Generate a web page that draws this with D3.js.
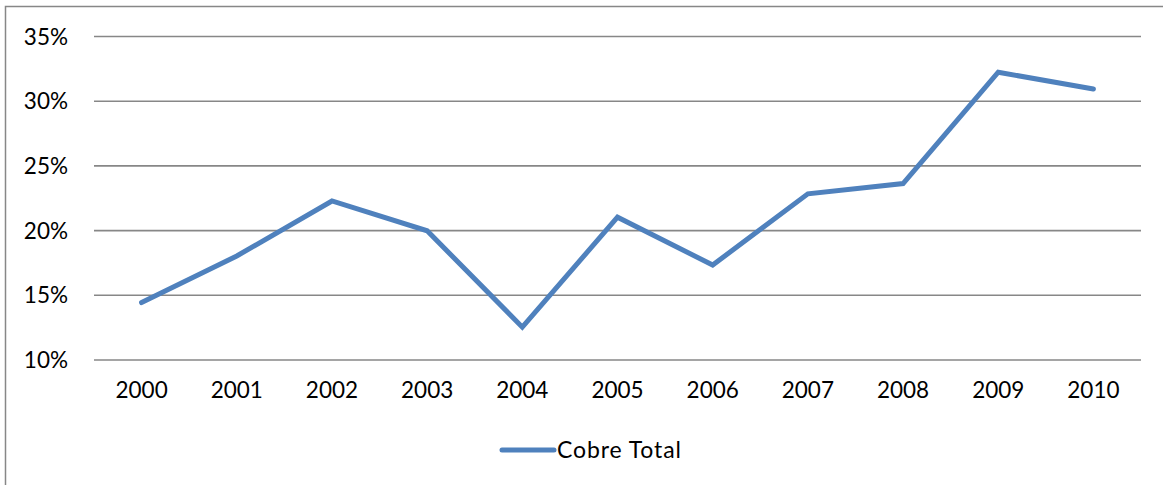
<!DOCTYPE html>
<html>
<head>
<meta charset="utf-8">
<script src="https://cdn.jsdelivr.net/npm/d3@7"></script>
<style>
  html, body { margin: 0; padding: 0; background: #fff; }
  svg { display: block; }
  text { font-family: Lato, "Open Sans", sans-serif; fill: #000; }
</style>
</head>
<body>
<svg id="chart" width="1163" height="485"></svg>
<script>
const categories = ["2000","2001","2002","2003","2004","2005","2006","2007","2008","2009","2010"];
const seriesName = "Cobre Total";
const values = [14.4, 18.0, 22.25, 19.95, 12.5, 21.0, 17.3, 22.8, 23.6, 32.2, 30.9];
const yTicks = [10, 15, 20, 25, 30, 35];

const svg = d3.select("#chart");
const W = 1163, H = 485;

// chart frame
svg.append("rect")
  .attr("x", 5.5).attr("y", 6.5)
  .attr("width", W + 10).attr("height", H + 10)
  .attr("fill", "#fff").attr("stroke", "#878787").attr("stroke-width", 1.5);

const plot = { left: 94, right: 1141, top: 36, bottom: 359.5 };

const x = d3.scaleBand().domain(categories).range([plot.left, plot.right]);
const y = d3.scaleLinear().domain([10, 35]).range([plot.bottom, plot.top]);

// gridlines
const yAxis = d3.axisLeft(y).tickValues(yTicks)
  .tickSize(-(plot.right - plot.left)).tickPadding(26)
  .tickFormat(d => d + "%");
const gy = svg.append("g").attr("transform", `translate(${plot.left},0)`).call(yAxis);
gy.select(".domain").remove();
gy.selectAll(".tick line").attr("stroke", "#878787").attr("stroke-width", 1.6);
gy.selectAll(".tick text").attr("font-size", 22.5).attr("font-family", "Lato, sans-serif").attr("fill", "#000").attr("dy", "0.36em");

// x axis labels
const xAxis = d3.axisBottom(x).tickSize(0).tickPadding(23);
const gx = svg.append("g").attr("transform", `translate(0,${plot.bottom})`).call(xAxis);
gx.select(".domain").remove();
gx.selectAll(".tick text").attr("font-size", 22.5).attr("font-family", "Lato, sans-serif").attr("fill", "#000");

// line
const line = d3.line()
  .x((d, i) => x(categories[i]) + x.bandwidth() / 2)
  .y(d => y(d));
svg.append("path")
  .datum(values)
  .attr("d", line)
  .attr("fill", "none")
  .attr("stroke", "#4F81BD")
  .attr("stroke-width", 5)
  .attr("stroke-linecap", "round")
  .attr("stroke-linejoin", "miter");

// legend
const lg = svg.append("g").attr("transform", "translate(500,450)");
lg.append("line").attr("x1", 2).attr("x2", 54).attr("y1", 0).attr("y2", 0)
  .attr("stroke", "#4F81BD").attr("stroke-width", 5).attr("stroke-linecap", "round");
lg.append("text").attr("x", 57).attr("y", 8).attr("font-size", 23)
  .attr("textLength", 124).attr("lengthAdjust", "spacing").text(seriesName);
</script>
</body>
</html>
